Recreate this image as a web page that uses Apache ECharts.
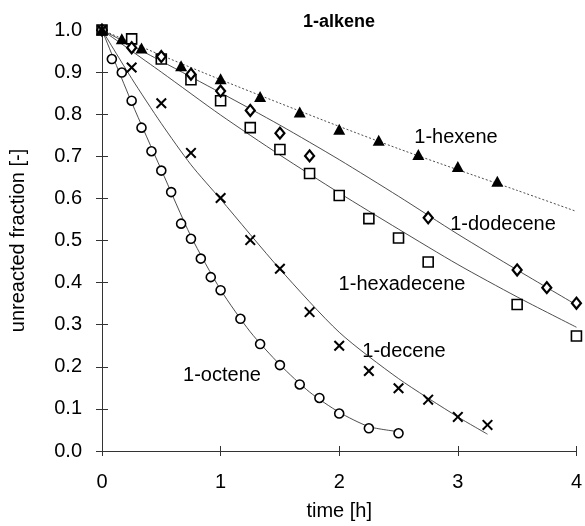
<!DOCTYPE html>
<html>
<head>
<meta charset="utf-8">
<script src="https://cdn.jsdelivr.net/npm/echarts@6/dist/echarts.min.js"></script>
<style>
html,body{margin:0;padding:0;background:#fff;}
#chart{width:585px;height:526px;}
</style>
</head>
<body>
<div id="chart"></div>
<script>
// ---- data ----
const xTickLabels = ['0', '1', '2', '3', '4'];
const yTickLabels = ['0.0','0.1','0.2','0.3','0.4','0.5','0.6','0.7','0.8','0.9','1.0'];

const hexeneT = [0, 0.167, 0.333, 0.667, 1.0, 1.333, 1.667, 2.0, 2.333, 2.667, 3.0, 3.333];
const hexeneY = [1.0, 0.979, 0.957, 0.915, 0.884, 0.842, 0.805, 0.764, 0.738, 0.704, 0.676, 0.641];

const dodeceneT = [0, 0.25, 0.5, 0.75, 1.0, 1.25, 1.5, 1.75, 2.75, 3.5, 3.75, 4.0];
const dodeceneY = [1.0, 0.958, 0.937, 0.895, 0.855, 0.809, 0.755, 0.701, 0.554, 0.430, 0.388, 0.351];

const hexadeceneT = [0, 0.25, 0.5, 0.75, 1.0, 1.25, 1.5, 1.75, 2.0, 2.25, 2.5, 2.75, 3.5, 4.0];
const hexadeceneY = [1.0, 0.979, 0.931, 0.882, 0.832, 0.768, 0.716, 0.659, 0.607, 0.552, 0.506, 0.449, 0.348, 0.273];

const deceneT = [0, 0.25, 0.5, 0.75, 1.0, 1.25, 1.5, 1.75, 2.0, 2.25, 2.5, 2.75, 3.0, 3.25];
const deceneY = [1.0, 0.911, 0.826, 0.708, 0.601, 0.501, 0.433, 0.330, 0.250, 0.190, 0.149, 0.122, 0.081, 0.062];

const octeneT = [0, 0.083, 0.167, 0.25, 0.333, 0.417, 0.5, 0.583, 0.667, 0.75, 0.833, 0.917, 1.0, 1.167, 1.333, 1.5, 1.667, 1.833, 2.0, 2.25, 2.5];
const octeneY = [1.0, 0.931, 0.899, 0.832, 0.768, 0.712, 0.666, 0.615, 0.540, 0.504, 0.457, 0.413, 0.382, 0.314, 0.254, 0.204, 0.158, 0.126, 0.089, 0.054, 0.042];

// fitted curves
const fitT = [0, 0.5, 1, 1.5, 2, 2.5, 3, 3.5, 4];
const hexeneFitY = [1.0, 0.94, 0.882, 0.826, 0.771, 0.718, 0.668, 0.619, 0.569];
const dodeceneFitY = [1.0, 0.926, 0.851, 0.774, 0.692, 0.605, 0.515, 0.43, 0.347];
const hexadeceneFitY = [1.0, 0.9, 0.798, 0.703, 0.613, 0.527, 0.443, 0.366, 0.294];
const deceneFitT = [0, 0.25, 0.5, 0.75, 1.0, 1.5, 2.0, 2.5, 3.0, 3.25];
const deceneFitY = [1.0, 0.885, 0.778, 0.68, 0.598, 0.432, 0.282, 0.172, 0.081, 0.040];
const octeneFitT = [0, 0.25, 0.5, 0.75, 1.0, 1.25, 1.5, 1.75, 2.0, 2.25, 2.5];
const octeneFitY = [1.0, 0.828, 0.668, 0.51, 0.383, 0.283, 0.205, 0.14, 0.092, 0.058, 0.046];

const seriesLabels = ['1-hexene', '1-dodecene', '1-hexadecene', '1-decene', '1-octene'];
const chartTitle = '1-alkene';
const xName = 'time [h]';
const yName = 'unreacted fraction [-]';

// ---- build ----
const zip = (a, b) => a.map((v, i) => [v, b[i]]);
const FONT = 'Liberation Sans, Arial, sans-serif';
const lineCol = '#3a3a3a';
const crossPath = 'path://M1.3,0L5,3.7L8.7,0L10,1.3L6.3,5L10,8.7L8.7,10L5,6.3L1.3,10L0,8.7L3.7,5L0,1.3Z';

function fit(name, t, y, dotted) {
  return {
    type: 'line', name: name, data: zip(t, y), smooth: 0.25,
    showSymbol: false, silent: true, z: 1,
    lineStyle: { color: lineCol, width: 0.9, type: dotted ? [2, 2] : 'solid' }
  };
}
function pts(name, t, y, symbol, size, fill, border) {
  return {
    type: 'scatter', name: name, data: zip(t, y), symbol: symbol, symbolSize: size, z: 3,
    itemStyle: { color: fill, borderColor: '#000', borderWidth: border, opacity: 1 }
  };
}

const chart = echarts.init(document.getElementById('chart'), null, { renderer: 'canvas' });
const axisLine = { show: true, onZero: false, lineStyle: { color: '#333', width: 1 } };
const tickStyle = { color: '#333', width: 1 };
chart.setOption({
  animation: false,
  backgroundColor: '#fff',
  title: {
    text: chartTitle, left: 334, top: 8, textAlign: 'center',
    textStyle: { fontFamily: FONT, fontSize: 18, fontWeight: 'bold', color: '#000' }
  },
  grid: { left: 101, right: 8, top: 30, bottom: 74, containLabel: false },
  xAxis: [{
    type: 'value', min: 0, max: 4, interval: 1, position: 'bottom',
    axisLine: axisLine,
    axisTick: { show: true, inside: false, length: 5, lineStyle: tickStyle },
    axisLabel: { margin: 21, fontFamily: FONT, fontSize: 20, color: '#000',
      formatter: v => xTickLabels[Math.round(v)] },
    splitLine: { show: false },
    name: xName, nameLocation: 'middle', nameGap: 50,
    nameTextStyle: { fontFamily: FONT, fontSize: 20, color: '#000' }
  }, {
    type: 'value', min: 0, max: 4, interval: 1, position: 'bottom', offset: 0,
    axisLine: axisLine,
    axisTick: { show: true, inside: true, length: 5, lineStyle: tickStyle },
    axisLabel: { show: false }, splitLine: { show: false }
  }],
  yAxis: [{
    type: 'value', min: 0, max: 1, interval: 0.1, position: 'left',
    axisLine: axisLine,
    axisTick: { show: true, inside: false, length: 6, lineStyle: tickStyle },
    axisLabel: { margin: 20, fontFamily: FONT, fontSize: 20, color: '#000',
      formatter: v => yTickLabels[Math.round(v * 10)] },
    splitLine: { show: false },
    name: yName, nameLocation: 'middle', nameGap: 74, nameRotate: 90,
    nameTextStyle: { fontFamily: FONT, fontSize: 20, color: '#000' }
  }, {
    type: 'value', min: 0, max: 1, interval: 0.1, position: 'left', offset: 0,
    axisLine: axisLine,
    axisTick: { show: true, inside: true, length: 6, lineStyle: tickStyle },
    axisLabel: { show: false }, splitLine: { show: false }
  }],
  series: [
    fit('hexeneFit', fitT, hexeneFitY, true),
    fit('dodeceneFit', fitT, dodeceneFitY, false),
    fit('hexadeceneFit', fitT, hexadeceneFitY, false),
    fit('deceneFit', deceneFitT, deceneFitY, false),
    fit('octeneFit', octeneFitT, octeneFitY, false),
    pts(seriesLabels[2], hexadeceneT, hexadeceneY, 'rect', 10, '#fff', 1.6),
    pts(seriesLabels[1], dodeceneT, dodeceneY, 'diamond', [9, 11], '#fff', 2.2),
    pts(seriesLabels[4], octeneT, octeneY, 'circle', 9, '#fff', 1.6),
    pts(seriesLabels[3], deceneT, deceneY, crossPath, 11, '#000', 0),
    pts(seriesLabels[0], hexeneT, hexeneY, 'triangle', [12, 11], '#000', 0)
  ],
  graphic: [
    { type: 'text', x: 456, y: 137, style: { text: seriesLabels[0], font: '20px ' + FONT, fill: '#000', textAlign: 'center', textVerticalAlign: 'middle' } },
    { type: 'text', x: 503, y: 224, style: { text: seriesLabels[1], font: '20px ' + FONT, fill: '#000', textAlign: 'center', textVerticalAlign: 'middle' } },
    { type: 'text', x: 402, y: 284, style: { text: seriesLabels[2], font: '20px ' + FONT, fill: '#000', textAlign: 'center', textVerticalAlign: 'middle' } },
    { type: 'text', x: 404, y: 351, style: { text: seriesLabels[3], font: '20px ' + FONT, fill: '#000', textAlign: 'center', textVerticalAlign: 'middle' } },
    { type: 'text', x: 222, y: 375, style: { text: seriesLabels[4], font: '20px ' + FONT, fill: '#000', textAlign: 'center', textVerticalAlign: 'middle' } }
  ]
});
</script>
</body>
</html>
